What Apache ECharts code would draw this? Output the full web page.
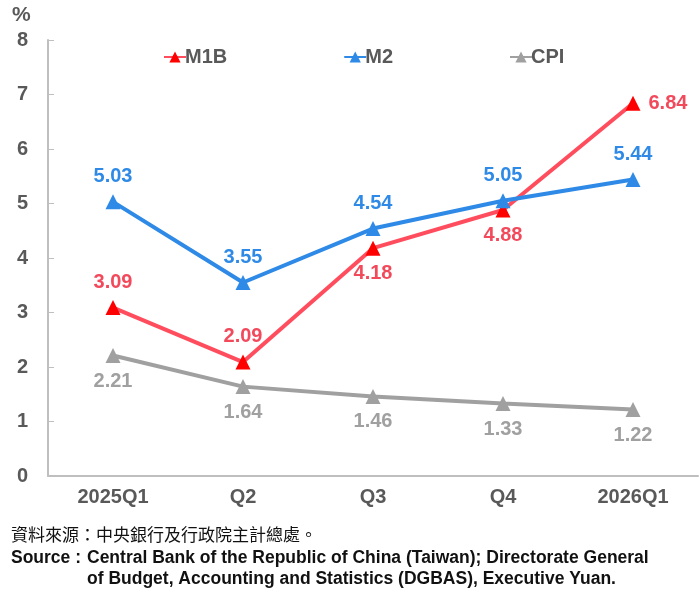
<!DOCTYPE html>
<html style="height: 100%">
<head>
<meta charset="utf-8">
<script src="https://cdn.jsdelivr.net/npm/echarts@6/dist/echarts.min.js"></script>
</head>
<body style="height: 100%; margin: 0">
<div id="container" style="width: 700px; height: 600px"></div>
<script type="text/javascript">
var categories = ['2025Q1', 'Q2', 'Q3', 'Q4', '2026Q1'];
var m1b = [3.09, 2.09, 4.18, 4.88, 6.84];
var m2 = [5.03, 3.55, 4.54, 5.05, 5.44];
var cpi = [2.21, 1.64, 1.46, 1.33, 1.22];

// 標籤位置
var m1bPos = ['top', 'top', 'bottom', 'bottom', 'right'];

var font = '"Liberation Sans", Arial, sans-serif';
var grayText = '#595959';

function withPos(vals, pos) {
	return vals.map(function (v, i) {
		return { value: v, label: { position: pos[i] } };
	});
}

function mkSeries(name, data, lineColor, symColor, labelColor, pos) {
	return {
		name: name,
		type: 'line',
		data: data,
		symbol: 'triangle',
		symbolSize: 15,
		lineStyle: { color: lineColor, width: 4 },
		itemStyle: { color: symColor },
		label: {
			show: true,
			position: pos,
			distance: 8,
			color: labelColor,
			fontSize: 20,
			fontWeight: 'bold',
			fontFamily: font,
			formatter: function (p) { return p.value.toFixed(2); }
		},
		z: 3
	};
}

var myChart = echarts.init(document.getElementById('container'));
var option = {
	backgroundColor: '#fff',
	animation: false,
	grid: { left: 48, right: 2, top: 40, bottom: 124 },
	legend: {
		top: 42,
		left: 158,
		itemGap: 116,
		itemWidth: 22,
		itemHeight: 14,
		textStyle: { color: grayText, fontSize: 20, fontWeight: 'bold', fontFamily: font, padding: [0, 0, 0, -6] },
		data: ['M1B', 'M2', 'CPI']
	},
	xAxis: {
		type: 'category',
		data: categories,
		boundaryGap: true,
		axisLine: { lineStyle: { color: '#bfbfbf', width: 2 } },
		axisTick: { alignWithLabel: true, length: 6, lineStyle: { color: '#d0d0d0' } },
		axisLabel: { color: grayText, fontSize: 20, fontWeight: 'bold', fontFamily: font, margin: 11 }
	},
	yAxis: {
		type: 'value',
		min: 0,
		max: 8,
		interval: 1,
		splitLine: { show: false },
		axisLine: { show: true, lineStyle: { color: '#bfbfbf', width: 2 } },
		axisTick: { show: true, inside: true, length: 6, lineStyle: { color: '#bfbfbf' } },
		axisLabel: { color: grayText, fontSize: 20, fontWeight: 'bold', fontFamily: font, margin: 20 }
	},
	graphic: [
		{ type: 'text', left: 12, top: 5, style: { text: '%', fill: grayText, font: 'bold 21px ' + font } },
		{ type: 'text', left: 11, top: 526, style: { text: '資料來源：中央銀行及行政院主計總處。', fill: '#111', font: '17px "Noto Sans CJK TC", sans-serif' } },
		{ type: 'text', left: 11, top: 549, style: { text: 'Source :', fill: '#111', font: 'bold 17.5px ' + font } },
		{ type: 'text', left: 87, top: 549, style: { text: 'Central Bank of the Republic of China (Taiwan); Directorate General', fill: '#111', font: 'bold 17.5px ' + font } },
		{ type: 'text', left: 87, top: 570, style: { text: 'of Budget, Accounting and Statistics (DGBAS), Executive Yuan.', fill: '#111', font: 'bold 17.5px ' + font } }
	],
	series: [
		mkSeries('M1B', withPos(m1b, m1bPos), '#ff4d5e', '#ff0000', '#f2495b', 'top'),
		mkSeries('M2', m2, '#2e8ae6', '#2e8ae6', '#2e8ae6', 'top'),
		mkSeries('CPI', cpi, '#a0a0a0', '#a0a0a0', '#a0a0a0', 'bottom')
	]
};
myChart.setOption(option);
</script>
</body>
</html>
